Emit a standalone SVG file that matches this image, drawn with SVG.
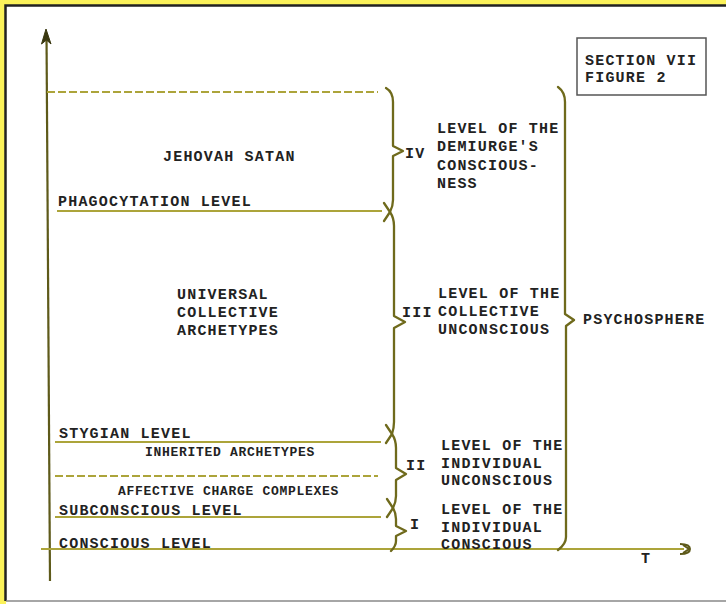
<svg xmlns="http://www.w3.org/2000/svg" width="726" height="604" viewBox="0 0 726 604">
<style>
.t{font-family:"Liberation Mono","DejaVu Sans Mono",monospace;font-weight:bold;font-size:15px;letter-spacing:1.2px;fill:#222}
.s{font-size:13px;letter-spacing:0.7px}
.lv{stroke:#aca43a;stroke-width:1.8;fill:none}
.dash{stroke:#aca43a;stroke-width:1.8;fill:none;stroke-dasharray:8 3}
.br{stroke:#6f6a1c;stroke-width:2.3;fill:none;stroke-linejoin:round;stroke-linecap:round}
.ax{stroke:#5e5a1a;stroke-width:2.2;fill:none}
</style>
<rect x="0" y="0" width="726" height="604" fill="#fbf25a"/>
<rect x="6" y="6" width="720" height="598" fill="#fff"/>
<path d="M5.5,601 V5.5 H726" stroke="#222" stroke-width="2.5" fill="none"/>
<path d="M6,601 H726" stroke="#888" stroke-width="1.5" fill="none"/>

<g id="axes">
<path class="ax" d="M46.5,34 L50,581"/>
<path d="M46,29 L41.5,44 L46.5,40 L51,44 Z" fill="#3a3810" stroke="#3a3810" stroke-width="1"/>
<path class="lv" d="M41,549 H684"/>
<path d="M680,544 Q690,544 690,549 Q690,554 680,554 M683,545 L689,549 L683,553" stroke="#5e5a1a" stroke-width="2" fill="none"/>
<text class="t" x="641" y="563">T</text>
</g>

<g id="levels">
<path class="dash" d="M47,92 H378"/>
<path class="lv" d="M57,211 H382"/>
<path class="lv" d="M55,442 H381"/>
<path class="dash" d="M55,476 H378"/>
<path class="lv" d="M55,517 H381"/>
</g>

<g id="level-labels">
<text class="t" x="163" y="161">JEHOVAH SATAN</text>
<text class="t" x="58" y="206">PHAGOCYTATION LEVEL</text>
<text class="t" x="177" y="299">UNIVERSAL</text>
<text class="t" x="177" y="317">COLLECTIVE</text>
<text class="t" x="177" y="335">ARCHETYPES</text>
<text class="t" x="59" y="438">STYGIAN LEVEL</text>
<text class="t s" x="145" y="456">INHERITED ARCHETYPES</text>
<text class="t s" x="118" y="495">AFFECTIVE CHARGE COMPLEXES</text>
<text class="t" x="59" y="515">SUBCONSCIOUS LEVEL</text>
<text class="t" x="59" y="548">CONSCIOUS LEVEL</text>
</g>

<g id="braces">
<path class="br" d="M386,88 Q393,92 393,102 V146 L403,151 L393,156 V200 Q393,206 390,212 L384,221"/>
<path class="br" d="M384,203 L390,212 Q394,218 394,226 V316 L405,322 L394,328 V422 Q394,428 392,434 L386,443"/>
<path class="br" d="M386,425 L392,434 Q396,440 396,448 V468 L406,474 L396,480 V496 Q396,502 393,508 L387,517"/>
<path class="br" d="M387,499 L393,508 Q396,513 396,519 V526 L406,531 L396,536 V541 Q396,546 391,551"/>
<path class="br" d="M558,87 Q565,92 565,102 V314 L574,320 L566,326 V537 Q566,544 558,550"/>
</g>

<g id="range-IV">
<text class="t" x="405" y="158">IV</text>
<text class="t" x="437" y="133">LEVEL OF THE</text>
<text class="t" x="437" y="151">DEMIURGE'S</text>
<text class="t" x="437" y="170">CONSCIOUS-</text>
<text class="t" x="437" y="188">NESS</text>
</g>
<g id="range-III">
<text class="t" x="402" y="317">III</text>
<text class="t" x="438" y="298">LEVEL OF THE</text>
<text class="t" x="438" y="316">COLLECTIVE</text>
<text class="t" x="438" y="334">UNCONSCIOUS</text>
</g>
<g id="range-II">
<text class="t" x="406" y="470">II</text>
<text class="t" x="441" y="450">LEVEL OF THE</text>
<text class="t" x="441" y="468">INDIVIDUAL</text>
<text class="t" x="441" y="485">UNCONSCIOUS</text>
</g>
<g id="range-I">
<text class="t" x="410" y="529">I</text>
<text class="t" x="441" y="514">LEVEL OF THE</text>
<text class="t" x="441" y="532">INDIVIDUAL</text>
<text class="t" x="441" y="549">CONSCIOUS</text>
</g>
<g id="psychosphere">
<text class="t" x="583" y="324">PSYCHOSPHERE</text>
</g>
<g id="caption">
<rect x="577" y="38" width="129" height="57" fill="none" stroke="#555" stroke-width="1.5"/>
<text class="t" x="585" y="65">SECTION VII</text>
<text class="t" x="585" y="82">FIGURE 2</text>
</g>
</svg>
